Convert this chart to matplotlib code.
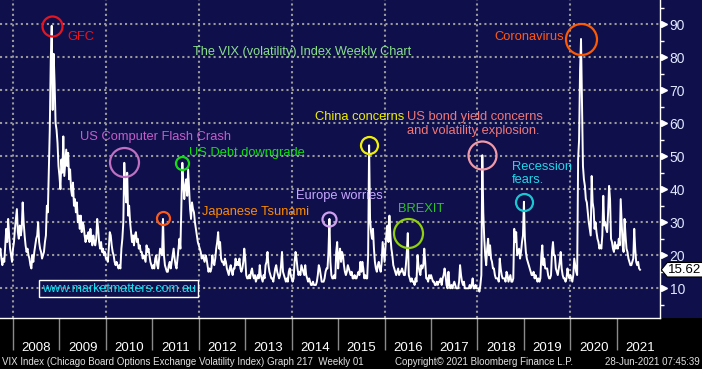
import numpy as np
import matplotlib.pyplot as plt
from matplotlib.patches import Polygon
from matplotlib.transforms import blended_transform_factory

# VIX weekly readings, 4 per month (Sep 2007 - Jun 2021)
vix_2007 = [26, 20, 22, 19, 17, 19, 18, 23, 28, 24, 31, 26, 22, 20, 18, 22]
vix_2008 = [24, 28, 31, 34, 27, 25, 29, 26, 28, 36, 30, 26, 23, 21, 22, 20,
            19, 17, 16, 20, 18, 21, 23, 25, 26, 30, 24, 22, 21, 19, 20, 21,
            24, 26, 35, 33, 45, 58, 79, 89.5, 64, 81, 72, 60, 58, 54, 47, 44]
vix_2009 = [40, 49, 45, 56, 44, 48, 52, 47, 51, 43, 46, 40, 38, 42, 35, 37,
            33, 36, 30, 32, 28, 32, 27, 30, 29, 26, 24, 26, 25, 27, 24, 28,
            25, 23, 26, 24, 23, 25, 31, 28, 24, 22, 24, 21, 22, 20, 21, 19]
vix_2010 = [19, 18, 22, 27, 26, 23, 21, 20, 18, 17, 18, 17, 16, 17, 16, 22,
            25, 30, 48, 41, 36, 45, 32, 35, 30, 27, 24, 26, 23, 26, 27, 24,
            25, 22, 23, 21, 21, 19, 20, 19, 18, 23, 21, 22, 20, 18, 17, 16]
vix_2011 = [17, 16, 19, 20, 17, 16, 19, 22, 21, 20, 31, 20, 17, 16, 15, 15,
            17, 18, 16, 18, 20, 22, 19, 17, 16, 19, 22, 25, 22, 35, 48, 42,
            37, 41, 43, 38, 46, 40, 34, 31, 36, 34, 33, 30, 28, 26, 24, 23]
vix_2012 = [22, 21, 19, 20, 19, 18, 20, 19, 17, 15, 16, 15, 16, 20, 18, 17,
            19, 22, 24, 27, 22, 24, 19, 18, 18, 17, 19, 18, 16, 15, 14, 16,
            17, 15, 14, 16, 16, 19, 17, 18, 17, 19, 16, 15, 16, 18, 22, 19]
vix_2013 = [14, 13, 13, 14, 13, 15, 16, 14, 13, 14, 12, 13, 14, 13, 17, 14,
            13, 12, 14, 13, 17, 18, 21, 17, 15, 14, 13, 13, 12, 14, 16, 17,
            15, 14, 13, 14, 17, 21, 15, 14, 13, 12, 13, 12, 15, 16, 14, 13]
vix_2014 = [12, 13, 18, 21, 19, 16, 14, 15, 14, 17, 16, 15, 14, 17, 14, 13,
            12, 13, 12, 11, 11, 12, 11, 11, 11, 12, 14, 17, 16, 14, 12, 12,
            12, 13, 15, 16, 16, 21, 31, 18, 14, 13, 13, 14, 13, 21, 24, 16]
vix_2015 = [20, 22, 18, 21, 20, 17, 15, 14, 15, 17, 16, 15, 14, 15, 13, 13,
            14, 13, 13, 14, 15, 14, 18, 15, 18, 16, 13, 14, 13, 13, 20, 53.3,
            31, 27, 25, 28, 22, 18, 16, 15, 17, 18, 16, 15, 18, 24, 21, 18]
vix_2016 = [23, 27, 29, 24, 32, 26, 22, 20, 17, 16, 15, 14, 15, 16, 14, 15,
            15, 16, 15, 14, 14, 17, 21, 26.7, 14, 13, 12, 13, 12, 12, 11, 13,
            12, 20, 17, 15, 14, 17, 16, 17, 22, 18, 13, 13, 12, 14, 13, 14]
vix_2017 = [13, 12, 12, 11, 11, 12, 11, 12, 12, 13, 11, 13, 14, 16, 14, 11,
            10, 15, 11, 10, 11, 10, 11, 12, 11, 10, 10, 10, 12, 17, 14, 12,
            11, 12, 10, 10, 10, 10, 10, 11, 10, 11, 13, 10, 10, 11, 10, 10]
vix_2018 = [10, 9, 11, 14, 50.3, 33, 25, 20, 17, 22, 25, 20, 23, 19, 18, 16,
            16, 14, 13, 13, 13, 12, 19, 16, 14, 13, 13, 13, 12, 15, 14, 12,
            13, 14, 12, 12, 13, 28, 24, 27, 20, 21, 22, 19, 21, 24, 26, 36.2]
vix_2019 = [25, 21, 19, 18, 17, 16, 15, 14, 14, 15, 13, 14, 13, 12, 13, 12,
            13, 20, 23, 17, 19, 16, 16, 16, 14, 13, 13, 14, 21, 24, 20, 20,
            16, 15, 14, 16, 18, 21, 16, 14, 13, 13, 12, 13, 16, 14, 13, 14]
vix_2020 = [13, 12, 14, 19, 17, 15, 14, 49, 55, 76, 85.5, 66, 47, 43, 41, 37,
            36, 33, 30, 28, 26, 44, 36, 34, 28, 30, 27, 25, 24, 22, 23, 22,
            26, 38, 29, 30, 28, 27, 33, 41, 37, 25, 24, 22, 21, 24, 22, 23]
vix_2021 = [22, 25, 23, 37, 30, 23, 21, 31, 26, 22, 21, 19, 18, 17, 17, 18,
            19, 28, 22, 18, 17, 18, 16, 15.62]

series = [(2007, 9, vix_2007), (2008, 1, vix_2008), (2009, 1, vix_2009),
          (2010, 1, vix_2010), (2011, 1, vix_2011), (2012, 1, vix_2012),
          (2013, 1, vix_2013), (2014, 1, vix_2014), (2015, 1, vix_2015),
          (2016, 1, vix_2016), (2017, 1, vix_2017), (2018, 1, vix_2018),
          (2019, 1, vix_2019), (2020, 1, vix_2020), (2021, 1, vix_2021)]

# annotated events: decimal year, VIX peak, circle radius (px), colours
event_x = [2008.833, 2010.396, 2011.229, 2011.646, 2014.8125, 2015.667, 2016.5, 2018.104, 2019.0, 2020.229]
event_y = [89.5, 48.2, 31.3, 48.0, 31.1, 53.3, 26.7, 50.3, 36.2, 85.5]
event_r = [10, 14.5, 6.5, 6.5, 7, 8.5, 14.5, 14, 8.5, 15.5]
event_colors = ["#e8141e", "#c070c0", "#ff5a14", "#10e010", "#d0a0f0",
                "#f0f000", "#90d010", "#f09aa8", "#18c8d0", "#ff5a00"]

labels = ["GFC", "US Computer Flash Crash", "Japanese Tsunami", "US Debt downgrade",
          "Europe worries", "China concerns", "BREXIT",
          "US bond yield concerns\nand volatility explosion.", "Recession\nfears.", "Coronavirus"]
label_x = [2009.18, 2009.44, 2012.07, 2011.79, 2014.09, 2014.50, 2016.29, 2016.48, 2018.74, 2018.355]
label_y = [86, 55.8, 33, 50.9, 37.9, 61.8, 33.9, 59.7, 44.8, 86]
label_colors = ["#e8141e", "#c060c8", "#ff8c00", "#10e010", "#c8a8ff",
                "#f0f000", "#30c030", "#f07878", "#20d8e8", "#ff5a14"]

navy = "#0f0f4c"
years = list(range(2008, 2022))
yticks = list(range(10, 100, 10))

x, y = [], []
for yr, m0, vals in series:
    for i, v in enumerate(vals):
        m = m0 - 1 + i // 4
        x.append(yr + m / 12 + (i % 4 + 1) / 48)
        y.append(v)

plt.rcParams["font.family"] = ["Liberation Sans", "DejaVu Sans"]

fig = plt.figure(figsize=(7.02, 3.69), dpi=100, facecolor="black")
# navy panel behind the plot and right axis
fig.patches.append(plt.Rectangle((0, 0.138), 1, 0.862, transform=fig.transFigure,
                                 facecolor=navy, zorder=-10))
ax = fig.add_axes([0, 0.1382, 0.9402, 0.8618])
ax.set_facecolor(navy)

for v in yticks:
    ax.axhline(v, color="#9a9a9a", lw=1.5, ls=(0, (1, 1.5)), zorder=1)
for yr in years[::2]:
    ax.axvline(yr, color="#9a9a9a", lw=1.5, ls=(0, (1, 1.5)), zorder=1)

ax.plot(x, y, color="white", lw=1.4, zorder=3)

for ex, ey, r, c in zip(event_x, event_y, event_r, event_colors):
    ax.plot(ex, ey, marker="o", ms=2 * r / 1.389, mfc="none", mec=c, mew=1.6, zorder=4)
for tx, ty, t, c in zip(label_x, label_y, labels, label_colors):
    ax.text(tx, ty, t, color=c, fontsize=9.3, ha="left", va="center", linespacing=1.15, zorder=5)

ax.text(2011.875, 81.5, "The VIX (volatility) Index Weekly Chart", color="#8be08b",
        fontsize=9.2, ha="left", va="center")
ax.text(0.063, 0.092, "www.marketmatters.com.au", transform=ax.transAxes, color="#10e0f0",
        fontsize=9, ha="left", va="center",
        bbox=dict(boxstyle="square,pad=0.2", fc="none", ec="white", lw=1))

ax.set_xlim(2007.72, 2021.93)
ax.set_ylim(1, 97.3)

# x axis: year ticks in the black band
ax.set_xticks(years)
ax.set_xticklabels([])
ax.tick_params(axis="x", length=23, width=1, color="#8a8a8a", direction="out")
tb = blended_transform_factory(ax.transData, ax.transAxes)
for yr in years:
    ax.text(yr + 0.5, -0.095, str(yr), transform=tb, color="white", fontsize=9.5,
            ha="center", va="center")

# right y axis
ax.yaxis.tick_right()
ax.set_yticks(yticks)
ax.set_yticks(list(range(5, 100, 10)), minor=True)
ax.tick_params(axis="y", which="major", length=3, width=1, color="white",
               labelcolor="#e0e8ff", labelsize=10, pad=4)
ax.tick_params(axis="y", which="minor", length=3, width=1, color="white")
yb = blended_transform_factory(ax.transAxes, ax.transData)
ax.plot([1.006] * len(yticks), yticks, transform=yb, ls="none", marker=">", ms=5,
        color="white", clip_on=False)

for s in ["top", "left"]:
    ax.spines[s].set_visible(False)
for s in ["right", "bottom"]:
    ax.spines[s].set_color("white")
    ax.spines[s].set_linewidth(1)

# last value flag
last = y[-1]
flag = Polygon([(1.002, last), (1.011, last + 2.2), (1.07, last + 2.2),
                (1.07, last - 2.2), (1.011, last - 2.2)], closed=True,
               transform=yb, fc="white", ec="black", lw=0.8, clip_on=False, zorder=6)
ax.add_patch(flag)
ax.text(1.0125, last, f"{last:.2f}", transform=yb, color="black", fontsize=9.5,
        ha="left", va="center", zorder=7, clip_on=False)

# footer
fig.text(0.003, 0.019, "VIX Index (Chicago Board Options Exchange Volatility Index) Graph 217  Weekly 01",
         color="#e0e0e0", fontsize=7, ha="left", va="center")
fig.text(0.563, 0.019, "Copyright\u00a9 2021 Bloomberg Finance L.P.", color="#e0e0e0",
         fontsize=7, ha="left", va="center")
fig.text(0.997, 0.019, "28-Jun-2021 07:45:39", color="#e0e0e0", fontsize=7,
         ha="right", va="center")

fig.savefig("out.png", dpi=100, facecolor="black")
